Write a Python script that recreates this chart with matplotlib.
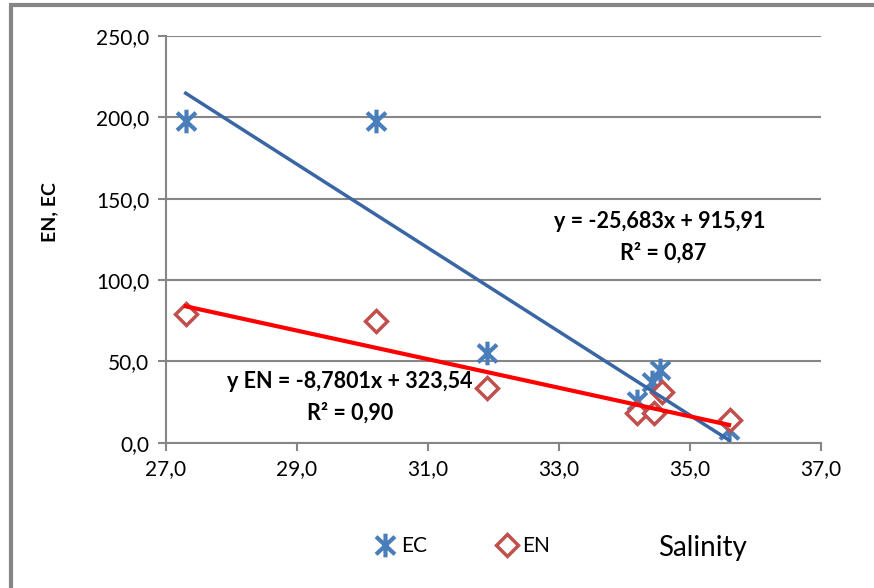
import matplotlib.pyplot as plt
import numpy as np
from matplotlib.path import Path
from matplotlib.patches import Rectangle

salinity = [27.3, 30.2, 31.9, 34.2, 34.42, 34.55, 35.6]
ec = [198.0, 197.5, 55.0, 25.5, 37.5, 44.5, 8.0]
en_x = [27.3, 30.2, 31.9, 34.2, 34.45, 34.57, 35.62]
en = [79.0, 75.0, 33.5, 18.5, 18.5, 31.0, 14.0]

# trendline coefficients as printed on the chart
ec_fit = [-25.683, 915.91]
en_fit = [-8.7801, 323.54]

yticks = [0, 50, 100, 150, 200, 250]
xticks = [27, 29, 31, 33, 35, 37]

plt.rcParams['font.family'] = ['Lato', 'DejaVu Sans']

fig = plt.figure(figsize=(8.74, 5.88), dpi=100)
ax = fig.add_axes([0.190, 0.247, 0.749, 0.692])

# outer chart frame (left and top edges visible)
fig.patches.append(Rectangle((11 / 874, -0.1), 1.2, 1 - 5 / 588 + 0.1,
                             transform=fig.transFigure, fill=False,
                             edgecolor='#868686', linewidth=3))

star = Path([(0, -1), (0, 1), (-0.8, -0.75), (0.8, 0.75),
             (-0.8, 0.75), (0.8, -0.75)],
            [Path.MOVETO, Path.LINETO] * 3)

ax.plot(salinity, ec, linestyle='none', marker=star, markersize=17,
        markeredgewidth=3, color='#4a7ebb', label='EC')
ax.plot(en_x, en, linestyle='none', marker='D', markersize=11,
        markeredgewidth=2.5, markeredgecolor='#c0504d', markerfacecolor='white',
        label='EN')

xs = np.array([min(salinity), max(salinity)])
ax.plot(xs, ec_fit[0] * xs + ec_fit[1], color='#3a66a4', linewidth=2.5, zorder=3)
ax.plot(xs, en_fit[0] * xs + en_fit[1], color='#ff0000', linewidth=3, zorder=3)

ax.set_xlim(27, 37)
ax.set_ylim(0, 250)
ax.set_xticks(xticks)
ax.set_yticks(yticks)
ax.set_xticklabels([f'{v:.1f}'.replace('.', ',') for v in xticks])
ax.set_yticklabels([f'{v:.1f}'.replace('.', ',') for v in yticks])
ax.tick_params(axis='both', labelsize=15, colors='#868686', labelcolor='black',
               length=6, width=1.5, direction='out')
ax.tick_params(axis='x', pad=6)
ax.tick_params(axis='y', pad=6)
ax.yaxis.grid(True, color='#868686', linewidth=1.5)
ax.set_axisbelow(True)
for s in ['top', 'right']:
    ax.spines[s].set_visible(False)
for s in ['left', 'bottom']:
    ax.spines[s].set_color('#868686')
    ax.spines[s].set_linewidth(1.5)

fig.text(50 / 874, 1 - 212 / 588, 'EN, EC', rotation=90, ha='center',
         va='center', fontsize=14, fontweight='bold')

fig.text(660 / 874, 1 - 222 / 588, 'y = -25,683x + 915,91', ha='center',
         va='center', fontsize=15.5, fontweight='bold')
fig.text(663 / 874, 1 - 253 / 588, 'R² = 0,87', ha='center', va='center',
         fontsize=15.5, fontweight='bold')
fig.text(350 / 874, 1 - 382 / 588, 'y EN = -8,7801x + 323,54', ha='center',
         va='center', fontsize=15.5, fontweight='bold')
fig.text(350 / 874, 1 - 413 / 588, 'R² = 0,90', ha='center', va='center',
         fontsize=15.5, fontweight='bold')

fig.legend(loc='center', bbox_to_anchor=(462 / 874, 1 - 546 / 588), ncol=2,
           frameon=False, fontsize=15, columnspacing=3.3, handletextpad=0.2,
           handlelength=1.1)
fig.text(658 / 874, 1 - 548 / 588, 'Salinity', ha='left', va='center',
         fontsize=20)

fig.savefig('out.png', dpi=100)
